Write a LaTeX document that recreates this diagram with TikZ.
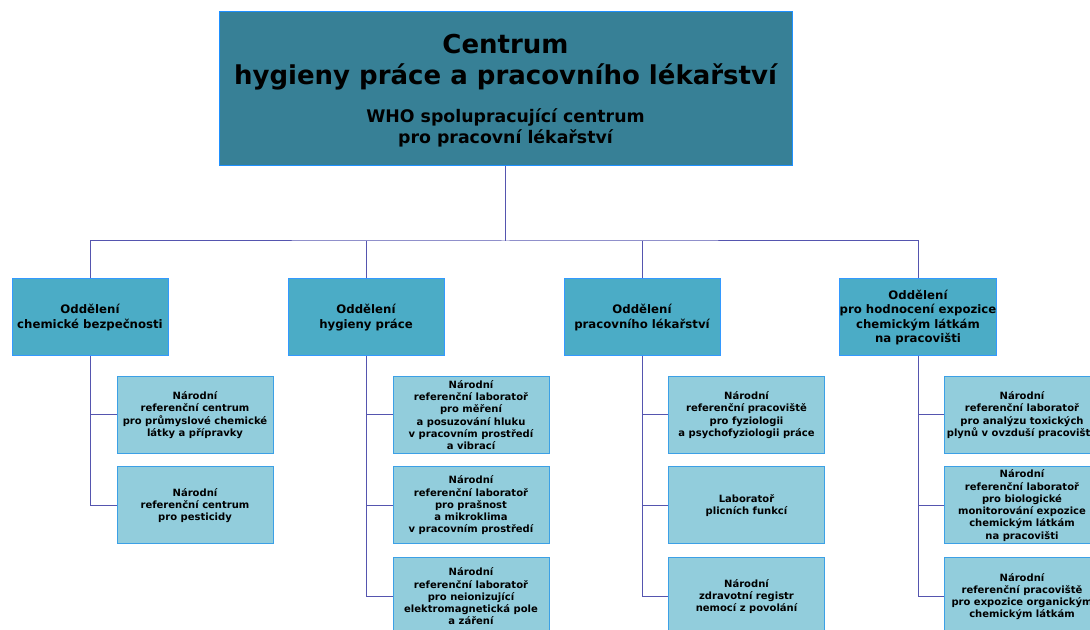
\documentclass[tikz,border=0pt]{standalone}
\usepackage{fontspec}
\setmainfont{DejaVu Sans}
\definecolor{topfill}{RGB}{55,128,150}
\definecolor{topborder}{RGB}{30,144,255}
\definecolor{deptfill}{RGB}{75,172,198}
\definecolor{deptborder}{RGB}{51,153,255}
\definecolor{childfill}{RGB}{146,205,220}
\definecolor{childborder}{RGB}{60,160,230}
\definecolor{conn}{RGB}{85,85,175}
\tikzset{
  topbox/.style={draw=topborder, fill=topfill, line width=0.75pt, minimum width=429.75pt, minimum height=115.5pt, inner sep=0pt},
  deptbox/.style={draw=deptborder, fill=deptfill, line width=0.75pt, minimum width=117pt, minimum height=57.75pt, inner sep=0pt, align=center, font=\bfseries\fontsize{8.8}{10.7}\selectfont},
  childbox/.style={draw=childborder, fill=childfill, line width=0.75pt, minimum width=117pt, minimum height=57.75pt, inner sep=0pt, align=center, font=\bfseries\fontsize{7.5}{9.2}\selectfont},
  txt/.style={inner sep=0pt, align=center},
  link/.style={draw=conn, line width=0.75pt}
}
\begin{document}
\begin{tikzpicture}[x=0.75pt, y=-0.75pt]
\useasboundingbox (0,0) rectangle (1090,630);
\clip (0,0) rectangle (1090,630);
% top
\node[topbox] (top) at (505.5,89) {};
\node[txt, font=\bfseries\fontsize{19.5}{23.5}\selectfont] (title) at (505.5,62) {Centrum\\hygieny práce a pracovního lékařství};
\node[txt, font=\bfseries\fontsize{13}{15.8}\selectfont] (sub) at (505.5,127.5) {WHO spolupracující centrum\\pro pracovní lékařství};
% departments
\node[deptbox] (d1) at (90,317.5) {Oddělení\\chemické bezpečnosti};
\node[deptbox] (d2) at (366,317.5) {Oddělení\\hygieny práce};
\node[deptbox] (d3) at (642,317.5) {Oddělení\\pracovního lékařství};
\node[deptbox] (d4) at (918,317.5) {Oddělení\\pro hodnocení expozice\\chemickým látkám\\na pracovišti};
% children col 1
\node[childbox] (c11) at (195,415) {Národní\\referenční centrum\\pro průmyslové chemické\\látky a přípravky};
\node[childbox] (c12) at (195,505.5) {Národní\\referenční centrum\\pro pesticidy};
% col 2
\node[childbox] (c21) at (471,415) {Národní\\referenční laboratoř\\pro měření\\a posuzování hluku\\v pracovním prostředí\\a vibrací};
\node[childbox] (c22) at (471,505.5) {Národní\\referenční laboratoř\\pro prašnost\\a mikroklima\\v pracovním prostředí};
\node[childbox] (c23) at (471,596.5) {Národní\\referenční laboratoř\\pro neionizující\\elektromagnetická pole\\a záření};
% col 3
\node[childbox] (c31) at (746.5,415) {Národní\\referenční pracoviště\\pro fyziologii\\a psychofyziologii práce};
\node[childbox] (c32) at (746.5,505.5) {Laboratoř\\plicních funkcí};
\node[childbox] (c33) at (746.5,596.5) {Národní\\zdravotní registr\\nemocí z povolání};
% col 4
\node[childbox] (c41) at (1022,415) {Národní\\referenční laboratoř\\pro analýzu toxických\\plynů v ovzduší pracoviště};
\node[childbox] (c42) at (1022,505.5) {Národní\\referenční laboratoř\\pro biologické\\monitorování expozice\\chemickým látkám\\na pracovišti};
\node[childbox] (c43) at (1022,596.5) {Národní\\referenční pracoviště\\pro expozice organickým\\chemickým látkám};
% connectors
\coordinate (bus) at (505.5,241);
\draw[link] (top.south) -- (bus);
\draw[link] (d1.north) |- (bus) -| (d4.north);
\draw[link] (d2.north) -- (d2.north |- bus);
\draw[link] (d3.north) -- (d3.north |- bus);
\draw[link] (d1.south) |- (c12.west);
\draw[link] (c11.west) -- (c11.west -| d1.south);
\draw[link] (d2.south) |- (c23.west);
\draw[link] (c21.west) -- (c21.west -| d2.south);
\draw[link] (c22.west) -- (c22.west -| d2.south);
\draw[link] (d3.south) |- (c33.west);
\draw[link] (c31.west) -- (c31.west -| d3.south);
\draw[link] (c32.west) -- (c32.west -| d3.south);
\draw[link] (d4.south) |- (c43.west);
\draw[link] (c41.west) -- (c41.west -| d4.south);
\draw[link] (c42.west) -- (c42.west -| d4.south);
\end{tikzpicture}
\end{document}
